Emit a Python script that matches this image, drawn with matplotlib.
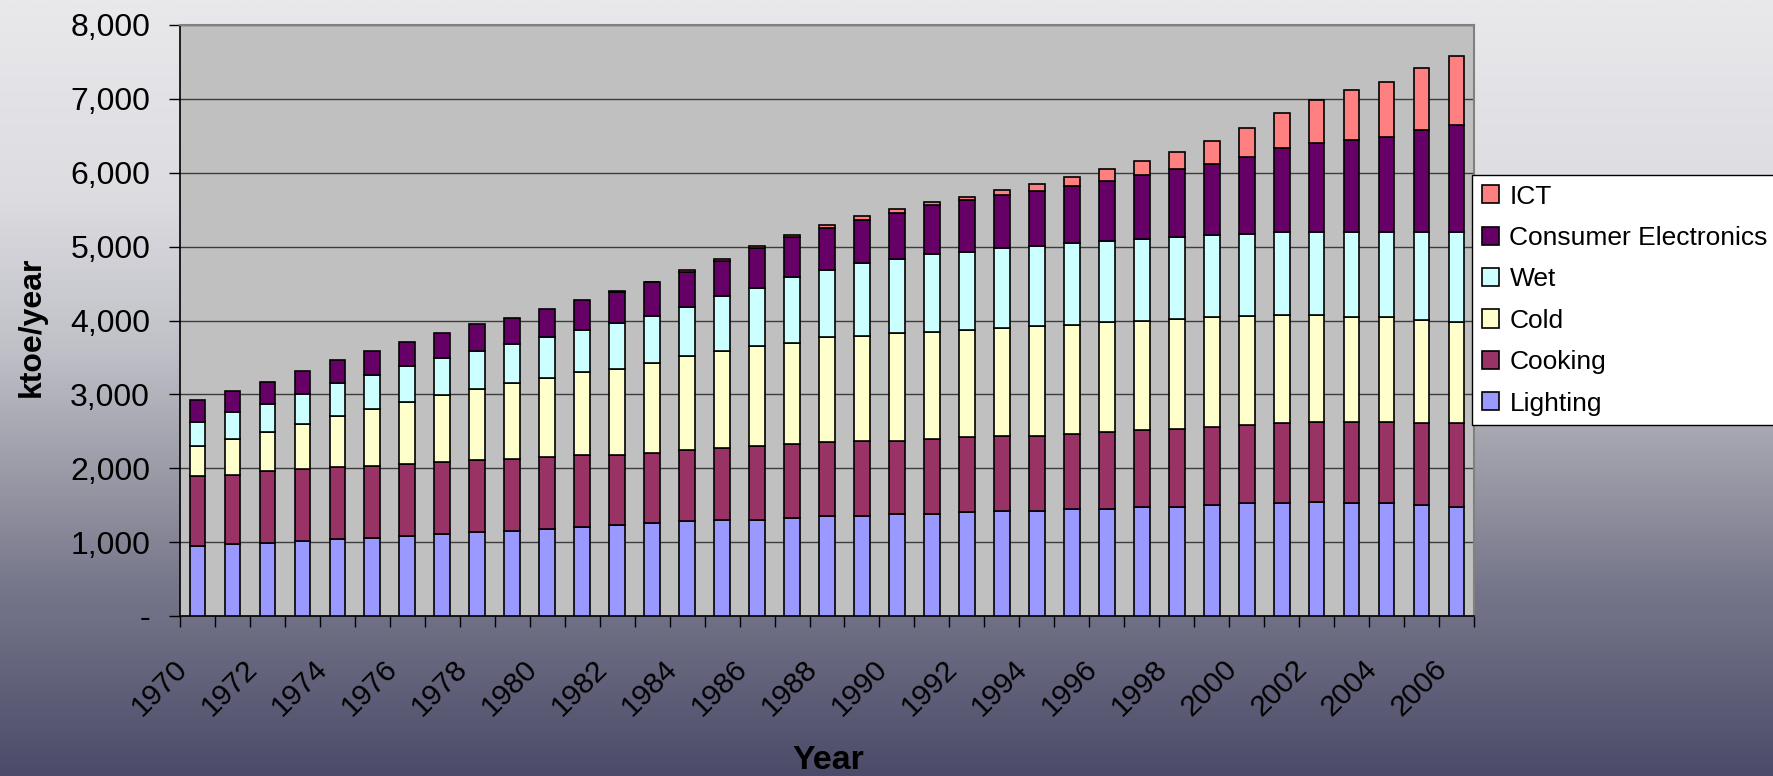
import numpy as np
import matplotlib
matplotlib.use("Agg")
import matplotlib.pyplot as plt
from matplotlib.colors import LinearSegmentedColormap
from matplotlib.patches import Patch
import matplotlib.transforms as mtransforms

# ---------------- data (ktoe/year) ----------------
years = list(range(1970, 2007))
lighting = [950, 976, 994, 1017, 1039, 1062, 1084, 1112, 1134, 1157, 1179, 1206,
            1234, 1256, 1283, 1306, 1306, 1333, 1356, 1356, 1378, 1378, 1405, 1423,
            1423, 1451, 1451, 1478, 1478, 1500, 1523, 1523, 1545, 1523, 1523, 1500, 1478]
cooking = [940, 935, 972, 971, 972, 971, 972, 967, 972, 971, 972, 969,
           944, 945, 967, 967, 990, 990, 994, 1016, 994, 1017, 1017, 1017,
           1017, 1016, 1039, 1034, 1057, 1058, 1062, 1089, 1085, 1107, 1107, 1112, 1134]
cold = [405, 484, 524, 606, 691, 768, 845, 917, 964, 1022, 1077, 1125,
        1164, 1218, 1264, 1317, 1359, 1377, 1422, 1423, 1457, 1456, 1452, 1456,
        1483, 1474, 1483, 1483, 1483, 1492, 1478, 1460, 1442, 1420, 1420, 1393, 1370]
wet = [337, 361, 384, 405, 449, 467, 488, 492, 517, 531, 543, 572,
       623, 636, 664, 737, 787, 893, 914, 988, 1003, 1054, 1058, 1082,
       1079, 1105, 1098, 1103, 1113, 1103, 1113, 1126, 1126, 1148, 1148, 1193, 1216]
consumer_electronics = [293, 290, 294, 321, 319, 323, 324, 346, 359, 359, 386, 405,
                        415, 460, 482, 485, 538, 537, 566, 582, 626, 652, 696, 727,
                        745, 778, 820, 866, 914, 969, 1036, 1135, 1198, 1252, 1284, 1374, 1442]
ict = [0, 0, 0, 0, 0, 0, 0, 0, 0, 0, 0, 0,
       18, 6, 30, 21, 26, 22, 41, 48, 52, 53, 50, 67,
       102, 122, 154, 198, 237, 306, 392, 478, 595, 676, 743, 842, 946]

series_names = ["Lighting", "Cooking", "Cold", "Wet", "Consumer Electronics", "ICT"]
series_values = [lighting, cooking, cold, wet, consumer_electronics, ict]
series_colors = ["#9999FF", "#993366", "#FFFFCC", "#CCFFFF", "#660066", "#FF8080"]
year_labels = [str(y) if (y - 1970) % 2 == 0 else "" for y in years]
y_ticks = [0, 1000, 2000, 3000, 4000, 5000, 6000, 7000, 8000]

# ---------------- figure ----------------
plt.rcParams["font.family"] = ["Liberation Sans", "DejaVu Sans"]
W, H = 1773, 776
fig = plt.figure(figsize=(W / 100, H / 100), dpi=100)

# gradient background
bg = fig.add_axes([0, 0, 1, 1], zorder=-10)
stops = [(0.0, (233, 233, 236)), (0.25, (220, 220, 225)), (0.45, (192, 192, 200)),
         (0.6, (157, 157, 169)), (0.75, (120, 120, 140)), (1.0, (76, 76, 106))]
cmap = LinearSegmentedColormap.from_list(
    "bg", [(p, tuple(c / 255 for c in col)) for p, col in stops])
grad = np.linspace(0, 1, 400).reshape(-1, 1)
bg.imshow(grad, aspect="auto", cmap=cmap, extent=[0, 1, 0, 1], origin="upper")
bg.axis("off")

# main axes
x0, x1, ytop, ybot = 180, 1474, 25, 616
ax = fig.add_axes([x0 / W, 1 - ybot / H, (x1 - x0) / W, (ybot - ytop) / H])
ax.set_facecolor("#C0C0C0")

x = np.arange(len(years))
bottom = np.zeros(len(years))
for vals, col, name in zip(series_values, series_colors, series_names):
    vals = np.asarray(vals, dtype=float)
    idx = vals > 0
    ax.bar(x[idx], vals[idx], 0.45, bottom=bottom[idx], color=col,
           edgecolor="black", linewidth=1.2, zorder=3)
    bottom += vals

ax.set_xlim(-0.5, len(years) - 0.5)
ax.set_ylim(0, 8000)
ax.set_axisbelow(True)
ax.yaxis.grid(True, color="#3c3c3c", linewidth=1.0)

# y ticks
ax.set_yticks(y_ticks)
ax.set_yticklabels(["-" if v == 0 else f"{v:,}" for v in y_ticks], fontsize=23)
ax.tick_params(axis="y", direction="out", length=8, width=1.0, pad=13.5, color="black")

# x ticks: marks at category boundaries, labels at centres
ax.set_xticks(np.arange(-0.5, len(years), 1.0))
ax.set_xticklabels([])
ax.tick_params(axis="x", which="major", direction="out", length=8, width=1.0, color="black")
ax.set_xticks(x, minor=True)
ax.set_xticklabels(year_labels, minor=True, fontsize=21.5)
ax.tick_params(axis="x", which="minor", length=0, pad=28)
offset = mtransforms.ScaledTranslation(-24 / 100, 0, fig.dpi_scale_trans)
for lab in ax.get_xticklabels(minor=True):
    lab.set_rotation(45)
    lab.set_ha("right")
    lab.set_va("top")
    lab.set_rotation_mode("anchor")
    lab.set_transform(lab.get_transform() + offset)

for s in ["left", "bottom"]:
    ax.spines[s].set_color("black")
    ax.spines[s].set_linewidth(1.2)
for s in ["top", "right"]:
    ax.spines[s].set_color("#808080")
    ax.spines[s].set_linewidth(1.5)

# axis titles
fig.text(32 / W, 1 - 327 / H, "ktoe/year", rotation=90, ha="center", va="center",
         fontsize=23, fontweight="bold")
fig.text(828 / W, 7 / H, "Year", ha="center", va="baseline", fontsize=24.5, fontweight="bold")

# legend (reverse order)
handles = [Patch(facecolor=c, edgecolor="black", linewidth=1.2)
           for c in series_colors[::-1]]
leg = fig.legend(handles, series_names[::-1], loc="upper left",
                 bbox_to_anchor=(1472 / W, 1 - 175 / H), bbox_transform=fig.transFigure,
                 frameon=True, fancybox=False, edgecolor="black", facecolor="white",
                 framealpha=1, fontsize=19, handlelength=0.68, handleheight=0.68,
                 handletextpad=0.38, labelspacing=0.66, borderpad=0.36, borderaxespad=0)
leg.get_frame().set_linewidth(1.0)

fig.savefig("out.png", dpi=100)
